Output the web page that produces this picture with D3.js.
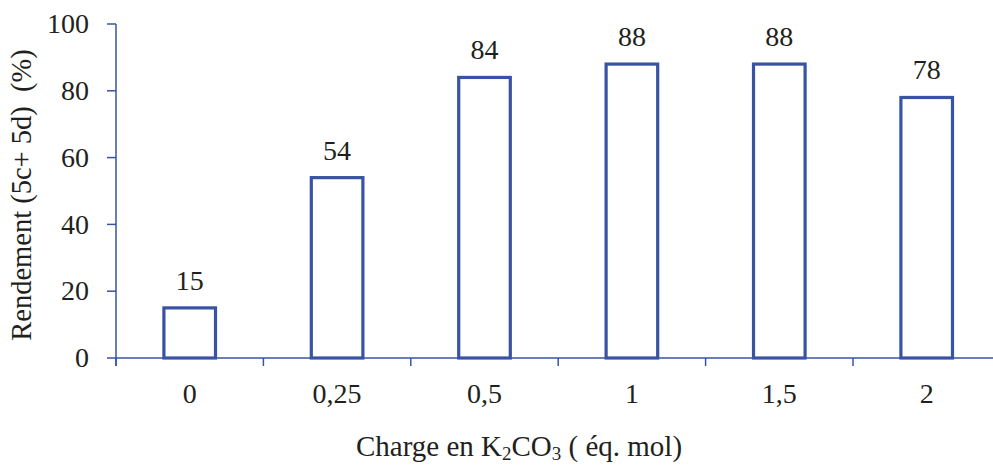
<!DOCTYPE html>
<html><head><meta charset="utf-8">
<script src="https://cdn.jsdelivr.net/npm/d3@7"></script>
<style>body{margin:0;background:#fff}svg{display:block}text{font-family:"Liberation Serif","Times New Roman",serif;fill:#231f20;white-space:pre}</style>
</head><body>
<svg id="c" width="993" height="466"></svg>
<script>
const categories = ["0","0,25","0,5","1","1,5","2"];
const values = [15,54,84,88,88,78];
const yTicks = [0,20,40,60,80,100];

const W = 993, H = 466;
const m = {left:116, top:24, bottom:358};
const color = "#3953a4";
const svg = d3.select("#c");
const x = d3.scaleBand().domain(categories).range([m.left, m.left + 147.4*6]).paddingInner(0.65).paddingOuter(0.325);
const y = d3.scaleLinear().domain([0,100]).range([m.bottom, m.top]);
const step = x.step();

// y axis
svg.append("line").attr("x1",m.left).attr("x2",m.left).attr("y1",y(100)).attr("y2",y(0)+8).attr("stroke",color).attr("stroke-width",1.5);
svg.selectAll(".yt").data(yTicks).join("line").attr("x1",m.left-9).attr("x2",m.left).attr("y1",d=>y(d)).attr("y2",d=>y(d)).attr("stroke",color).attr("stroke-width",1.5);
svg.selectAll(".yl").data(yTicks).join("text").attr("x",m.left-27).attr("y",d=>y(d)).attr("dy","0.33em").attr("text-anchor","end").attr("font-size",28).text(d=>d);

// x axis
svg.append("line").attr("x1",m.left).attr("x2",W).attr("y1",y(0)).attr("y2",y(0)).attr("stroke",color).attr("stroke-width",1.5);
const bounds = d3.range(categories.length+1).map(i=>m.left+i*step);
svg.selectAll(".xt").data(bounds).join("line").attr("x1",d=>d).attr("x2",d=>d).attr("y1",y(0)).attr("y2",y(0)+8).attr("stroke",color).attr("stroke-width",1.5);
svg.selectAll(".xl").data(categories).join("text").attr("x",d=>x(d)+x.bandwidth()/2).attr("y",403).attr("text-anchor","middle").attr("font-size",28).text(d=>d);

// bars
svg.selectAll(".bar").data(values).join("rect")
  .attr("x",(d,i)=>x(categories[i])).attr("width",x.bandwidth())
  .attr("y",d=>y(d)).attr("height",d=>y(0)-y(d))
  .attr("fill","#fff").attr("stroke",color).attr("stroke-width",3.2);
svg.selectAll(".vl").data(values).join("text")
  .attr("x",(d,i)=>x(categories[i])+x.bandwidth()/2).attr("y",d=>y(d)-18)
  .attr("text-anchor","middle").attr("font-size",28).text(d=>d);

// axis titles
svg.append("text").attr("transform","translate(31,195) rotate(-90)").attr("text-anchor","middle").attr("font-size",28.5)
  .text("Rendement (5c+ 5d)  (%)");
const t = svg.append("text").attr("x",519).attr("y",456).attr("text-anchor","middle").attr("font-size",29);
t.append("tspan").text("Charge en K");
t.append("tspan").attr("font-size",19).attr("dy",4).text("2");
t.append("tspan").attr("dy",-4).text("CO");
t.append("tspan").attr("font-size",19).attr("dy",4).text("3");
t.append("tspan").attr("dy",-4).text(" ( éq. mol)");
</script>
</body></html>
